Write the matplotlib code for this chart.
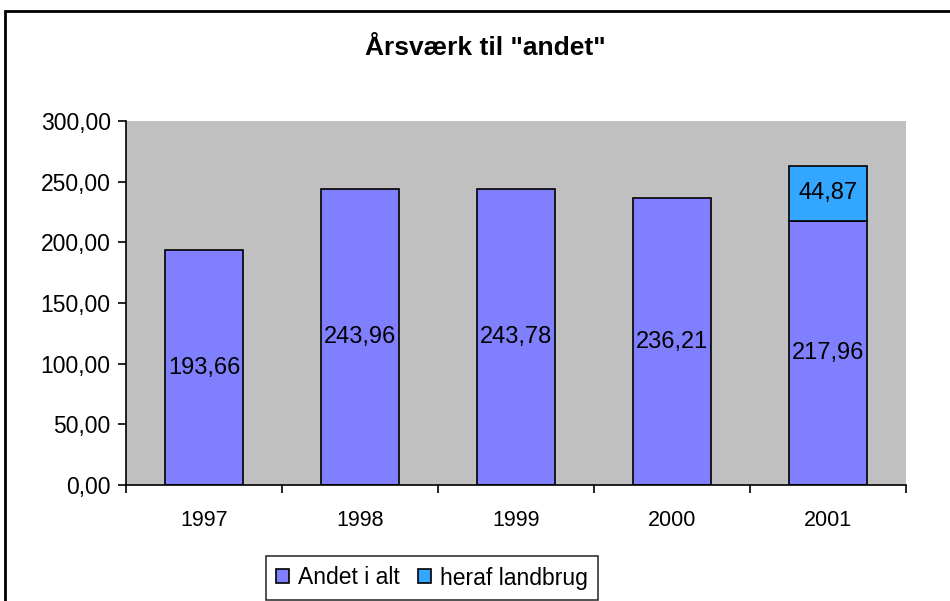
import matplotlib
matplotlib.use("Agg")
import matplotlib.pyplot as plt
from matplotlib.patches import Rectangle

years = ["1997", "1998", "1999", "2000", "2001"]
andet_i_alt = [193.66, 243.96, 243.78, 236.21, 217.96]
heraf_landbrug = [0, 0, 0, 0, 44.87]
yticks = [0, 50, 100, 150, 200, 250, 300]

plt.rcParams['font.family'] = ['Liberation Sans', 'DejaVu Sans']

fig = plt.figure(figsize=(9.5, 6.01), dpi=100)
W, H = 950, 601
ax = fig.add_axes([126 / W, 1 - 485 / H, 780 / W, 364 / H])
ax.set_facecolor('#C0C0C0')

x = list(range(len(years)))
c1 = '#8080FF'
c2 = '#33A6FF'
ax.bar(x, andet_i_alt, width=0.5, color=c1, edgecolor='black', linewidth=1.2, zorder=2, label='Andet i alt')
ax.bar(x[-1:], heraf_landbrug[-1:], bottom=andet_i_alt[-1:], width=0.5, color=c2,
       edgecolor='black', linewidth=1.2, zorder=2, label='heraf landbrug')

for i, v in enumerate(andet_i_alt):
    ax.text(i, v / 2, f"{v:.2f}".replace('.', ','), ha='center', va='center', fontsize=17, zorder=3)
for i, v in enumerate(heraf_landbrug):
    if v > 0:
        ax.text(i, andet_i_alt[i] + v / 2, f"{v:.2f}".replace('.', ','), ha='center', va='center',
                fontsize=17, zorder=3)

ax.set_xlim(-0.5, len(years) - 0.5)
ax.set_ylim(0, 300)
ax.set_yticks(yticks)
ax.set_yticklabels([f"{t:.2f}".replace('.', ',') for t in yticks], fontsize=16.5)
ax.set_xticks(x)
ax.set_xticklabels(years, fontsize=15.5)
ax.tick_params(axis='x', length=0, pad=18)
ax.set_xticks([i - 0.5 for i in range(len(years) + 1)], minor=True)
ax.tick_params(axis='x', which='minor', length=6, width=1.2, direction='out')
ax.tick_params(axis='y', length=6, width=1.2, direction='out', pad=5)
for s in ['top', 'right']:
    ax.spines[s].set_visible(False)
for s in ['left', 'bottom']:
    ax.spines[s].set_linewidth(1.2)

fig.text(485 / W, 1 - 48 / H, 'Årsværk til "andet"', ha='center', va='center',
         fontsize=19, fontweight='bold')

# outer frame
fig.patches.append(Rectangle((5 / W, -0.01), 1.0, 1 - 10.5 / H + 0.01, transform=fig.transFigure,
                             fill=False, edgecolor='black', linewidth=2))

leg = fig.legend(loc='center', bbox_to_anchor=(432 / W, 1 - 578 / H), ncol=2, fontsize=16.5,
                 frameon=True, fancybox=False, edgecolor='black', handlelength=0.55,
                 handleheight=0.55, handletextpad=0.4, columnspacing=0.8, borderpad=0.45,
                 borderaxespad=0)
leg.get_frame().set_linewidth(1.2)

fig.savefig('out.png', dpi=100)
